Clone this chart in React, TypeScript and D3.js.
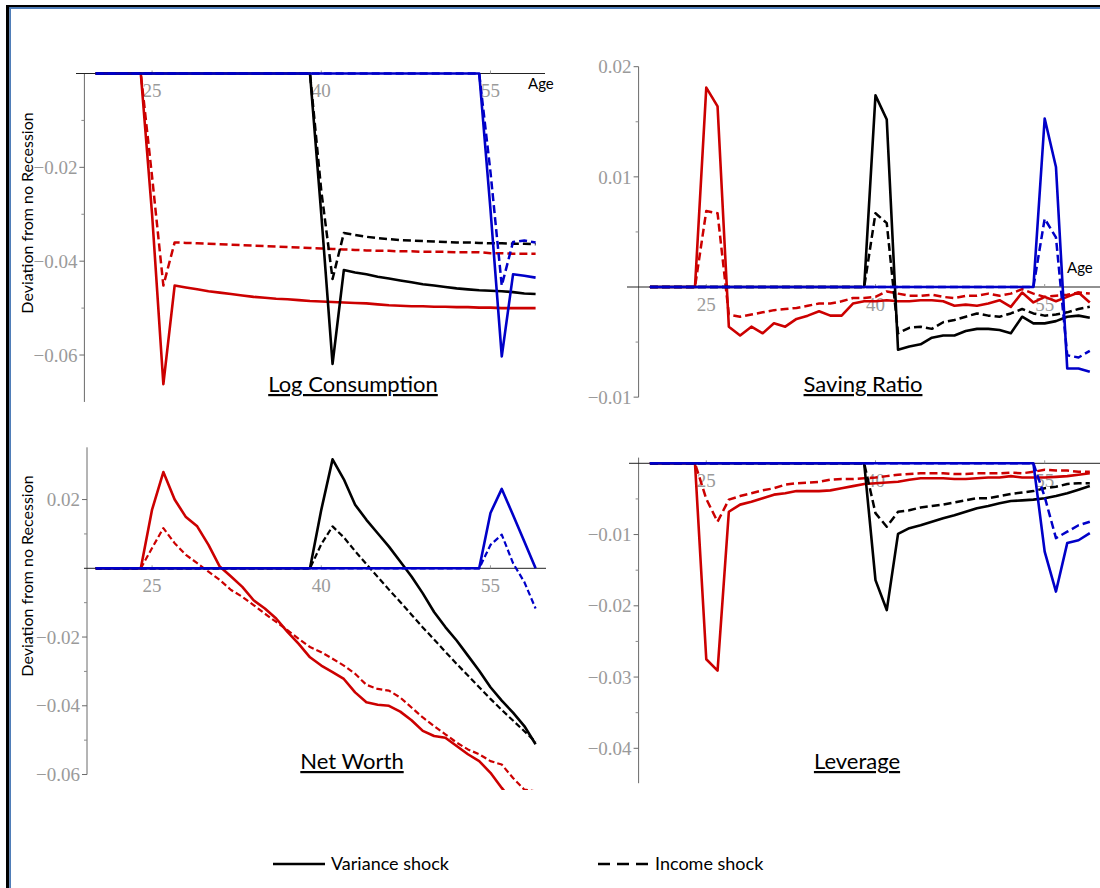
import React from 'react';
import * as d3 from 'd3';

// ---------- DATA (ages 20..59, annual; each series: first listed age, values from there; zero before) ----------
const TICK_AGES = [25, 40, 55];

// Log Consumption
const lcVarRedStart = 24;
const lcVarRed = [0, -0.030, -0.0662, -0.0452, -0.0456, -0.046, -0.0464, -0.0467, -0.047, -0.0473, -0.0476, -0.0478, -0.048, -0.0481, -0.0483, -0.0485, -0.0486, -0.0487, -0.0488, -0.0489, -0.049, -0.0492, -0.0494, -0.0495, -0.0496, -0.0496, -0.0497, -0.0497, -0.0498, -0.0498, -0.0499, -0.0499, -0.05, -0.05, -0.05, -0.05];
const lcIncRed = [0, -0.022, -0.0452, -0.036, -0.0361, -0.0362, -0.0363, -0.0364, -0.0365, -0.0366, -0.0367, -0.0368, -0.0369, -0.037, -0.0371, -0.0372, -0.0373, -0.0374, -0.0375, -0.0376, -0.0377, -0.0378, -0.0378, -0.0379, -0.0379, -0.038, -0.038, -0.038, -0.0381, -0.0381, -0.0381, -0.0383, -0.0383, -0.0384, -0.0384, -0.0384];
const lcVarBlackStart = 39;
const lcVarBlack = [0, -0.030, -0.0619, -0.0419, -0.0424, -0.0428, -0.0433, -0.0437, -0.0441, -0.0445, -0.0449, -0.0452, -0.0455, -0.0458, -0.046, -0.0462, -0.0463, -0.0464, -0.0466, -0.0469, -0.047];
const lcIncBlack = [0, -0.025, -0.0438, -0.034, -0.0344, -0.0348, -0.0351, -0.0353, -0.0355, -0.0356, -0.0357, -0.0358, -0.0359, -0.036, -0.036, -0.0361, -0.0362, -0.0362, -0.0363, -0.0363, -0.0364];
const lcVarBlueStart = 54;
const lcVarBlue = [0, -0.029, -0.0603, -0.0428, -0.0431, -0.0435];
const lcIncBlue = [0, -0.021, -0.0452, -0.0359, -0.0356, -0.036];

// Saving Ratio
const srVarRed = [0, 0.0181, 0.0164, -0.0036, -0.0044, -0.0036, -0.0042, -0.0033, -0.0036, -0.0029, -0.0026, -0.0022, -0.0026, -0.0026, -0.0015, -0.0013, -0.0013, -0.0012, -0.0013, -0.0013, -0.0012, -0.0012, -0.0013, -0.0017, -0.0016, -0.0017, -0.0015, -0.0012, -0.0018, -0.0005, -0.0014, -0.0009, -0.0013, -0.0009, -0.0005, -0.0014];
const srIncRed = [0, 0.0069, 0.0067, -0.0025, -0.0027, -0.0025, -0.0023, -0.0021, -0.002, -0.0019, -0.0017, -0.0015, -0.0015, -0.0013, -0.001, -0.001, -0.0009, -0.0004, -0.0006, -0.0008, -0.0008, -0.0007, -0.0009, -0.001, -0.0008, -0.0008, -0.0006, -0.0008, -0.0006, -0.0002, -0.0006, -0.0009, -0.0008, -0.0007, -0.0005, -0.0006];
const srVarBlack = [0, 0.0174, 0.0152, -0.0057, -0.0054, -0.0052, -0.0046, -0.0044, -0.0044, -0.004, -0.0038, -0.0038, -0.0039, -0.0042, -0.0027, -0.0033, -0.0033, -0.0031, -0.0027, -0.0026, -0.0028];
const srIncBlack = [0, 0.0067, 0.0058, -0.0042, -0.0037, -0.0036, -0.0038, -0.0032, -0.003, -0.0027, -0.0024, -0.0026, -0.0027, -0.0024, -0.002, -0.0024, -0.0026, -0.0025, -0.0023, -0.002, -0.0018];
const srVarBlue = [0, 0.0153, 0.0109, -0.0074, -0.0074, -0.0077];
const srIncBlue = [0, 0.0062, 0.0045, -0.0062, -0.0064, -0.0058];

// Net Worth
const nwVarRed = [0, 0.0171, 0.028, 0.020, 0.0149, 0.0122, 0.0068, 0.0005, -0.0024, -0.0054, -0.0093, -0.0117, -0.0146, -0.0185, -0.022, -0.0259, -0.0283, -0.0302, -0.0322, -0.0361, -0.039, -0.0397, -0.04, -0.0417, -0.0442, -0.0473, -0.0488, -0.0493, -0.0517, -0.0541, -0.0561, -0.0595, -0.0639, -0.068, -0.072, -0.076];
const nwIncRed = [0, 0.0059, 0.0117, 0.0073, 0.0039, 0.0015, -0.001, -0.0034, -0.0063, -0.0083, -0.0107, -0.0132, -0.0156, -0.018, -0.0205, -0.0229, -0.0244, -0.0263, -0.0283, -0.0307, -0.0339, -0.0351, -0.0356, -0.0376, -0.0405, -0.0434, -0.0459, -0.0483, -0.0507, -0.0527, -0.0541, -0.0561, -0.0571, -0.061, -0.0644, -0.0649];
const nwVarBlack = [0, 0.017, 0.0317, 0.0259, 0.0185, 0.0141, 0.0102, 0.0063, 0.002, -0.0024, -0.0073, -0.0127, -0.0171, -0.021, -0.0254, -0.0298, -0.0346, -0.0385, -0.042, -0.0459, -0.0512];
const nwIncBlack = [0, 0.007, 0.0122, 0.009, 0.005, 0.0012, -0.0025, -0.0062, -0.0098, -0.0135, -0.0172, -0.0207, -0.0243, -0.0278, -0.0312, -0.0346, -0.038, -0.0412, -0.0443, -0.0474, -0.0505];
const nwVarBlue = [0, 0.0161, 0.0231, 0.0155, 0.0078, 0];
const nwIncBlue = [0, 0.0068, 0.0098, 0.0015, -0.004, -0.0117];

// Leverage
const lvVarRed = [0, -0.0275, -0.0291, -0.0068, -0.0058, -0.0054, -0.0049, -0.0044, -0.0042, -0.0039, -0.0039, -0.0039, -0.0038, -0.0035, -0.0032, -0.0029, -0.0028, -0.0027, -0.0026, -0.0023, -0.0021, -0.0021, -0.0021, -0.0022, -0.0022, -0.0021, -0.002, -0.002, -0.0018, -0.002, -0.002, -0.002, -0.0019, -0.0018, -0.0016, -0.0014];
const lvIncRed = [0, -0.005, -0.0082, -0.0051, -0.0046, -0.0042, -0.0038, -0.0035, -0.003, -0.0028, -0.0027, -0.0026, -0.0023, -0.0022, -0.0022, -0.0021, -0.002, -0.0018, -0.0016, -0.0015, -0.0014, -0.0014, -0.0014, -0.0015, -0.0015, -0.0014, -0.0014, -0.0014, -0.0013, -0.0014, -0.0012, -0.0009, -0.001, -0.001, -0.0012, -0.0012];
const lvVarBlack = [0, -0.0164, -0.0206, -0.0099, -0.0091, -0.0087, -0.0082, -0.0077, -0.0073, -0.0068, -0.0063, -0.006, -0.0056, -0.0053, -0.0052, -0.0051, -0.0049, -0.0046, -0.0042, -0.0037, -0.0032];
const lvIncBlack = [0, -0.007, -0.0089, -0.0068, -0.0066, -0.0062, -0.006, -0.0058, -0.0055, -0.0052, -0.0049, -0.0049, -0.0046, -0.0043, -0.0041, -0.0039, -0.0035, -0.0033, -0.0029, -0.0028, -0.0028];
const lvVarBlue = [0, -0.0124, -0.018, -0.0112, -0.0108, -0.0098];
const lvIncBlue = [0, -0.0047, -0.0105, -0.0096, -0.0087, -0.0082];

const FIRST_AGE = 20;
const RED = '#cc0000';
const BLACK = '#000000';
const BLUE = '#0000c8';

type Series = { start: number; values: number[]; color: string; dashed: boolean };

function group(var1: number[], inc1: number[], var2: number[], inc2: number[], var3: number[], inc3: number[]): Series[] {
  return [
    { start: lcVarRedStart, values: var1, color: RED, dashed: false },
    { start: lcVarRedStart, values: inc1, color: RED, dashed: true },
    { start: lcVarBlackStart, values: var2, color: BLACK, dashed: false },
    { start: lcVarBlackStart, values: inc2, color: BLACK, dashed: true },
    { start: lcVarBlueStart, values: var3, color: BLUE, dashed: false },
    { start: lcVarBlueStart, values: inc3, color: BLUE, dashed: true },
  ];
}

const PX_PER_YEAR = 11.28;
const SERIF = "'Liberation Serif', 'DejaVu Serif', serif";
const SANS = "Lato, 'Open Sans', sans-serif";

type PanelCfg = {
  id: string; title: string; titleX: number; titleY: number;
  x0: number; axisX: number; xAxisFrom: number; xAxisTo: number;
  yZero: number; ppu: number; yAxisTop: number; yAxisBot: number;
  majors: number[]; minors: number[];
  clipTop: number; clipBot: number;
  age?: { x: number; y: number };
  ylabelY?: number;
  series: Series[];
  dash: string; dashW: number;
};

const panels: PanelCfg[] = [
  {
    id: 'lc', title: 'Log Consumption', titleX: 353, titleY: 392,
    x0: 84.4, axisX: 84.4, xAxisFrom: 76, xAxisTo: 545,
    yZero: 73.5, ppu: 4692, yAxisTop: 0, yAxisBot: -0.07,
    majors: [-0.02, -0.04, -0.06], minors: [-0.01, -0.03, -0.05],
    clipTop: 55, clipBot: 404, age: { x: 528, y: 84 }, ylabelY: 213,
    series: group(lcVarRed, lcIncRed, lcVarBlack, lcIncBlack, lcVarBlue, lcIncBlue),
    dash: '8,4', dashW: 2.5,
  },
  {
    id: 'sr', title: 'Saving Ratio', titleX: 863, titleY: 392,
    x0: 638.6, axisX: 638.6, xAxisFrom: 627, xAxisTo: 1100,
    yZero: 287, ppu: 11015, yAxisTop: 0.02, yAxisBot: -0.01,
    majors: [0.02, 0.01, -0.01], minors: [0.015, 0.005, -0.005],
    clipTop: 55, clipBot: 400, age: { x: 1067, y: 268 },
    series: group(srVarRed, srIncRed, srVarBlack, srIncBlack, srVarBlue, srIncBlue),
    dash: '8,4', dashW: 2.5,
  },
  {
    id: 'nw', title: 'Net Worth', titleX: 352, titleY: 769,
    x0: 84.4, axisX: 87, xAxisFrom: 84, xAxisTo: 546,
    yZero: 568.3, ppu: 3437, yAxisTop: 0.0352, yAxisBot: -0.06,
    majors: [0.02, -0.02, -0.04, -0.06], minors: [0.01, -0.01, -0.03, -0.05],
    clipTop: 440, clipBot: 790, ylabelY: 576,
    series: group(nwVarRed, nwIncRed, nwVarBlack, nwIncBlack, nwVarBlue, nwIncBlue),
    dash: '6,3', dashW: 2.2,
  },
  {
    id: 'lv', title: 'Leverage', titleX: 857, titleY: 769,
    x0: 638.6, axisX: 638.6, xAxisFrom: 629, xAxisTo: 1100,
    yZero: 463.3, ppu: 7125, yAxisTop: 0.0008, yAxisBot: -0.0449,
    majors: [-0.01, -0.02, -0.03, -0.04], minors: [-0.005, -0.015, -0.025, -0.035],
    clipTop: 445, clipBot: 790,
    series: group(lvVarRed, lvIncRed, lvVarBlack, lvIncBlack, lvVarBlue, lvIncBlue),
    dash: '8,4', dashW: 2.5,
  },
];

const fmt = d3.format('.2f');

function Panel({ cfg }: { cfg: PanelCfg }) {
  const x = d3.scaleLinear().domain([19, 60]).range([cfg.x0, cfg.x0 + 41 * PX_PER_YEAR]);
  const y = d3.scaleLinear().domain([0, 1]).range([cfg.yZero, cfg.yZero - cfg.ppu]);
  const line = d3.line<[number, number]>().x(d => x(d[0])).y(d => y(d[1]));
  const clipId = 'clip-' + cfg.id;
  const y0 = y(0);
  return (
    <g>
      <defs>
        <clipPath id={clipId}>
          <rect x={cfg.axisX - 12} y={cfg.clipTop} width={480} height={cfg.clipBot - cfg.clipTop} />
        </clipPath>
      </defs>
      {/* y axis */}
      <line x1={cfg.axisX} x2={cfg.axisX} y1={y(cfg.yAxisTop)} y2={y(cfg.yAxisBot)} stroke="#6a6a6a" strokeWidth={1} />
      {cfg.majors.map(v => (
        <g key={'M' + v}>
          <line x1={cfg.axisX - 5} x2={cfg.axisX} y1={y(v)} y2={y(v)} stroke="#6a6a6a" strokeWidth={1} />
          <text x={cfg.axisX - 7} y={y(v)} dy="0.35em" textAnchor="end" fontFamily={SERIF} fontSize={19} fill="#9a9a9a">{fmt(v)}</text>
        </g>
      ))}
      {cfg.minors.map(v => (
        <line key={'m' + v} x1={cfg.axisX - 3} x2={cfg.axisX} y1={y(v)} y2={y(v)} stroke="#8a8a8a" strokeWidth={1} />
      ))}
      {/* x axis */}
      <line x1={cfg.xAxisFrom} x2={cfg.xAxisTo} y1={y0} y2={y0} stroke="#222" strokeWidth={1} />
      {TICK_AGES.map(a => (
        <g key={'t' + a}>
          <line x1={x(a)} x2={x(a)} y1={y0 - 3} y2={y0} stroke="#999" strokeWidth={1} />
          <text x={x(a)} y={y0 + 17} dy="0.35em" textAnchor="middle" fontFamily={SERIF} fontSize={19} fill="#9a9a9a">{a}</text>
        </g>
      ))}
      {cfg.age && (
        <text x={cfg.age.x} y={cfg.age.y} dy="0.35em" fontFamily={SANS} fontSize={15} fill="#000">Age</text>
      )}
      <g clipPath={`url(#${clipId})`}>
        {cfg.series.map((s, i) => {
          const pts: [number, number][] = [[FIRST_AGE, 0], ...s.values.map((v, k) => [s.start + k, v] as [number, number])];
          return (
            <path key={i} d={line(pts) || ''} fill="none" stroke={s.color}
              strokeWidth={s.dashed ? cfg.dashW : 2.6}
              strokeDasharray={s.dashed ? cfg.dash : undefined}
              strokeLinejoin="round" />
          );
        })}
      </g>
      <text x={cfg.titleX} y={cfg.titleY} textAnchor="middle" fontFamily={SANS} fontSize={22} fill="#000" textDecoration="underline">{cfg.title}</text>
      {cfg.ylabelY !== undefined && (
        <text transform={`translate(33,${cfg.ylabelY}) rotate(-90)`} textAnchor="middle" fontFamily={SANS} fontSize={16} fill="#000">Deviation from no Recession</text>
      )}
    </g>
  );
}

export default function App() {
  return (
    <svg width={1100} height={888} style={{ position: 'absolute', left: 0, top: 0, background: '#fff' }}>
      <rect x={0} y={0} width={1100} height={888} fill="#fff" />
      {/* frame */}
      <rect x={6} y={5} width={1094} height={2} fill="#000" />
      <rect x={9} y={7} width={1091} height={2} fill="#4f7db8" />
      <rect x={6} y={5} width={3.3} height={883} fill="#000" />
      <rect x={9.3} y={7} width={1.7} height={881} fill="#4f7db8" />
      {panels.map(p => <Panel key={p.id} cfg={p} />)}
      {/* legend */}
      <line x1={273} x2={325} y1={864} y2={864} stroke="#000" strokeWidth={2.5} />
      <text x={331} y={864} dy="0.35em" fontFamily={SANS} fontSize={18} fill="#000">Variance shock</text>
      <line x1={598} x2={648} y1={864} y2={864} stroke="#000" strokeWidth={2.5} strokeDasharray="12,7" />
      <text x={655} y={864} dy="0.35em" fontFamily={SANS} fontSize={18} fill="#000">Income shock</text>
    </svg>
  );
}
